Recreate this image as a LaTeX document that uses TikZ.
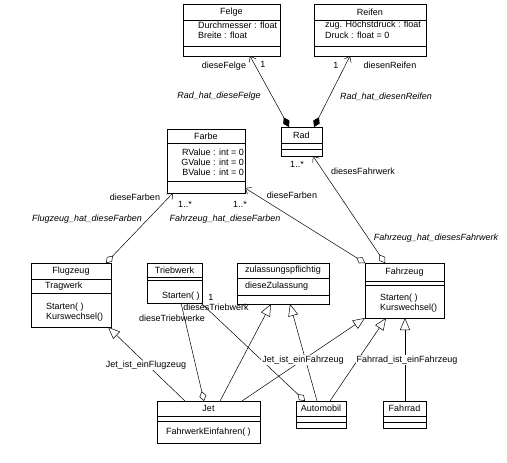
\documentclass[tikz,border=0pt]{standalone}
\usepackage{fontspec}
\setmainfont{Liberation Sans}
\usetikzlibrary{arrows.meta,calc,fit}
\tikzset{
  x=1pt, y=-1pt,
  boxline/.style={line width=0.5pt},
  txt/.style={font=\fontsize{9}{10}\selectfont, inner sep=0pt},
  lbl/.style={font=\fontsize{9}{10}\selectfont, inner sep=1pt, fill=white},
  ilbl/.style={font=\fontsize{9}{10}\selectfont\itshape, inner sep=1pt, fill=white},
  conn/.style={line width=0.5pt},
  compnav/.style={{Diamond[length=11pt,width=7pt]}-{Straight Barb[length=5pt,width=8pt]}},
  aggnav/.style={{Straight Barb[length=5pt,width=8pt]}-{Diamond[open,length=10pt,width=7pt]}},
  aggend/.style={-{Diamond[open,length=10pt,width=7pt]}},
  gen/.style={-{Triangle[open,length=12pt,width=10pt]}}
}
\newcommand\umlbox[7]{%
  \node[fit={(#2,#3)(#4,#5)}, inner sep=0pt, outer sep=0pt, draw, boxline] (#1) {};
  \draw[boxline] (#2,#6) -- (#4,#6);
  \draw[boxline] (#2,#7) -- (#4,#7);
}
\begin{document}
\begin{tikzpicture}
\useasboundingbox (0,0) rectangle (507,463);

% ---- classes ----
\umlbox{felge}{183}{4}{280}{56}{20}{46}
\node[txt] (felget) at (231.5,12) {Felge};
\node[txt,anchor=west] (felgea1) at (198,25) {Durchmesser : float};
\node[txt,anchor=west] (felgea2) at (198,35) {Breite : float};

\umlbox{reifen}{314}{4}{426}{56}{20}{46}
\node[txt] (reifent) at (370,12) {Reifen};
\node[txt,anchor=west] (reifena1) at (325,25) {zug. Höchstdruck : float};
\node[txt,anchor=west] (reifena2) at (325,35) {Druck : float = 0};

\umlbox{rad}{281}{127}{322}{156}{143}{149}
\node[txt] (radt) at (301.5,135) {Rad};

\umlbox{farbe}{167}{129}{245}{193}{143}{181}
\node[txt] (farbet) at (206,136) {Farbe};
\node[txt,anchor=east] (farbea1) at (244,152) {RValue : int = 0};
\node[txt,anchor=east] (farbea2) at (244,162) {GValue : int = 0};
\node[txt,anchor=east] (farbea3) at (244,172) {BValue : int = 0};

\umlbox{flugzeug}{31}{263}{111}{327}{279}{293}
\node[txt] (flugzeugt) at (71,271) {Flugzeug};
\node[txt,anchor=west] (flugzeuga1) at (45,286) {Tragwerk};
\node[txt,anchor=west] (flugzeugo1) at (46,307) {Starten( )};
\node[txt,anchor=west] (flugzeugo2) at (46,317) {Kurswechsel()};

\umlbox{triebwerk}{147}{263}{202}{303}{277}{280}
\node[txt] (triebwerkt) at (174.5,270) {Triebwerk};
\node[txt,anchor=west] (triebwerko1) at (162,296) {Starten( )};

\umlbox{zul}{237}{263}{329}{304}{278}{295}
\node[txt] (zult) at (283,270.5) {zulassungspflichtig};
\node[txt,anchor=west] (zula1) at (245,286) {dieseZulassung};

\umlbox{fahrzeug}{365}{263}{444}{318}{281}{285}
\node[txt] (fahrzeugt) at (404.5,272) {Fahrzeug};
\node[txt,anchor=west] (fahrzeugo1) at (380,298) {Starten( )};
\node[txt,anchor=west] (fahrzeugo2) at (380,308) {Kurswechsel()};

\umlbox{jet}{157}{401}{260}{443}{416}{421}
\node[txt] (jett) at (208.5,408.5) {Jet};
\node[txt] (jeto1) at (208.5,432) {FahrwerkEinfahren( )};

\umlbox{automobil}{296}{401}{346}{428}{416}{422}
\node[txt] (automobilt) at (321,408.5) {Automobil};

\umlbox{fahrrad}{383}{401}{426}{428}{416}{422}
\node[txt] (fahrradt) at (404.5,408.5) {Fahrrad};

% ---- associations ----
\draw[conn,compnav] ($(rad.north west)+(8,0)$) -- ($(felge.south west)+(67,0)$);
\draw[conn,compnav] ($(rad.north west)+(33,0)$) -- ($(reifen.south west)+(36,0)$);
\draw[conn,aggnav] ($(rad.south west)+(32,0)$) -- ($(fahrzeug.north west)+(20,0)$);
\draw[conn,aggnav] ($(farbe.south west)+(6,0)$) -- ($(flugzeug.north west)+(75,0)$);
\draw[conn,aggnav] ($(farbe.south east)+(0,-5)$) -- (fahrzeug.north west);
\draw[conn,aggend] ($(triebwerk.south west)+(34,0)$) -- ($(jet.north west)+(47,0)$);
\draw[conn,aggend] ($(triebwerk.south east)+(-1,0)$) -- ($(automobil.north west)+(9,0)$);

% ---- generalizations ----
\draw[conn,gen] ($(jet.north west)+(28,0)$) -- ($(flugzeug.south east)+(-3,0)$);
\draw[conn,gen] ($(jet.north west)+(63,0)$) -- ($(zul.south west)+(34,0)$);
\draw[conn,gen] ($(automobil.north west)+(21,0)$) -- ($(zul.south west)+(53,0)$);
\draw[conn,gen] ($(jet.north west)+(85,0)$) -- (fahrzeug.south west);
\draw[conn,gen] ($(automobil.north west)+(34,0)$) -- ($(fahrzeug.south west)+(21,0)$);
\draw[conn,gen] ($(fahrrad.north west)+(22,0)$) -- ($(fahrzeug.south west)+(40,0)$);

% ---- labels ----
\node[txt] (l1) at (224,66) {dieseFelge};
\node[txt] (l2) at (263,64) {1};
\node[txt,font=\fontsize{9}{10}\selectfont\itshape] (l3) at (219,96) {Rad\_hat\_dieseFelge};
\node[txt] (l4) at (336,65) {1};
\node[txt] (l5) at (390,65) {diesenReifen};
\node[txt,font=\fontsize{9}{10}\selectfont\itshape] (l6) at (386,97) {Rad\_hat\_diesenReifen};
\node[txt] (l7) at (297,164) {1..*};
\node[txt] (l8) at (363,171) {diesesFahrwerk};
\node[txt,font=\fontsize{9}{10}\selectfont\itshape] (l9) at (436,238) {Fahrzeug\_hat\_diesesFahrwerk};
\node[txt] (l10) at (135,197) {dieseFarben};
\node[txt] (l11) at (185,204) {1..*};
\node[txt,font=\fontsize{9}{10}\selectfont\itshape] (l12) at (87,219) {Flugzeug\_hat\_dieseFarben};
\node[txt] (l13) at (240,204) {1..*};
\node[txt] (l14) at (292,195) {dieseFarben};
\node[txt,font=\fontsize{9}{10}\selectfont\itshape] (l15) at (225,219) {Fahrzeug\_hat\_dieseFarben};
\node[txt] (l16) at (211,297) {1};
\node[txt] (l17) at (216,307) {diesesTriebwerk};
\node[txt] (l18) at (172,318) {dieseTriebwerke};
\node[lbl] (l19) at (146,365) {Jet\_ist\_einFlugzeug};
\node[lbl] (l20) at (303,360) {Jet\_ist\_einFahrzeug};
\node[lbl] (l21) at (407,360) {Fahrrad\_ist\_einFahrzeug};
\end{tikzpicture}
\end{document}
